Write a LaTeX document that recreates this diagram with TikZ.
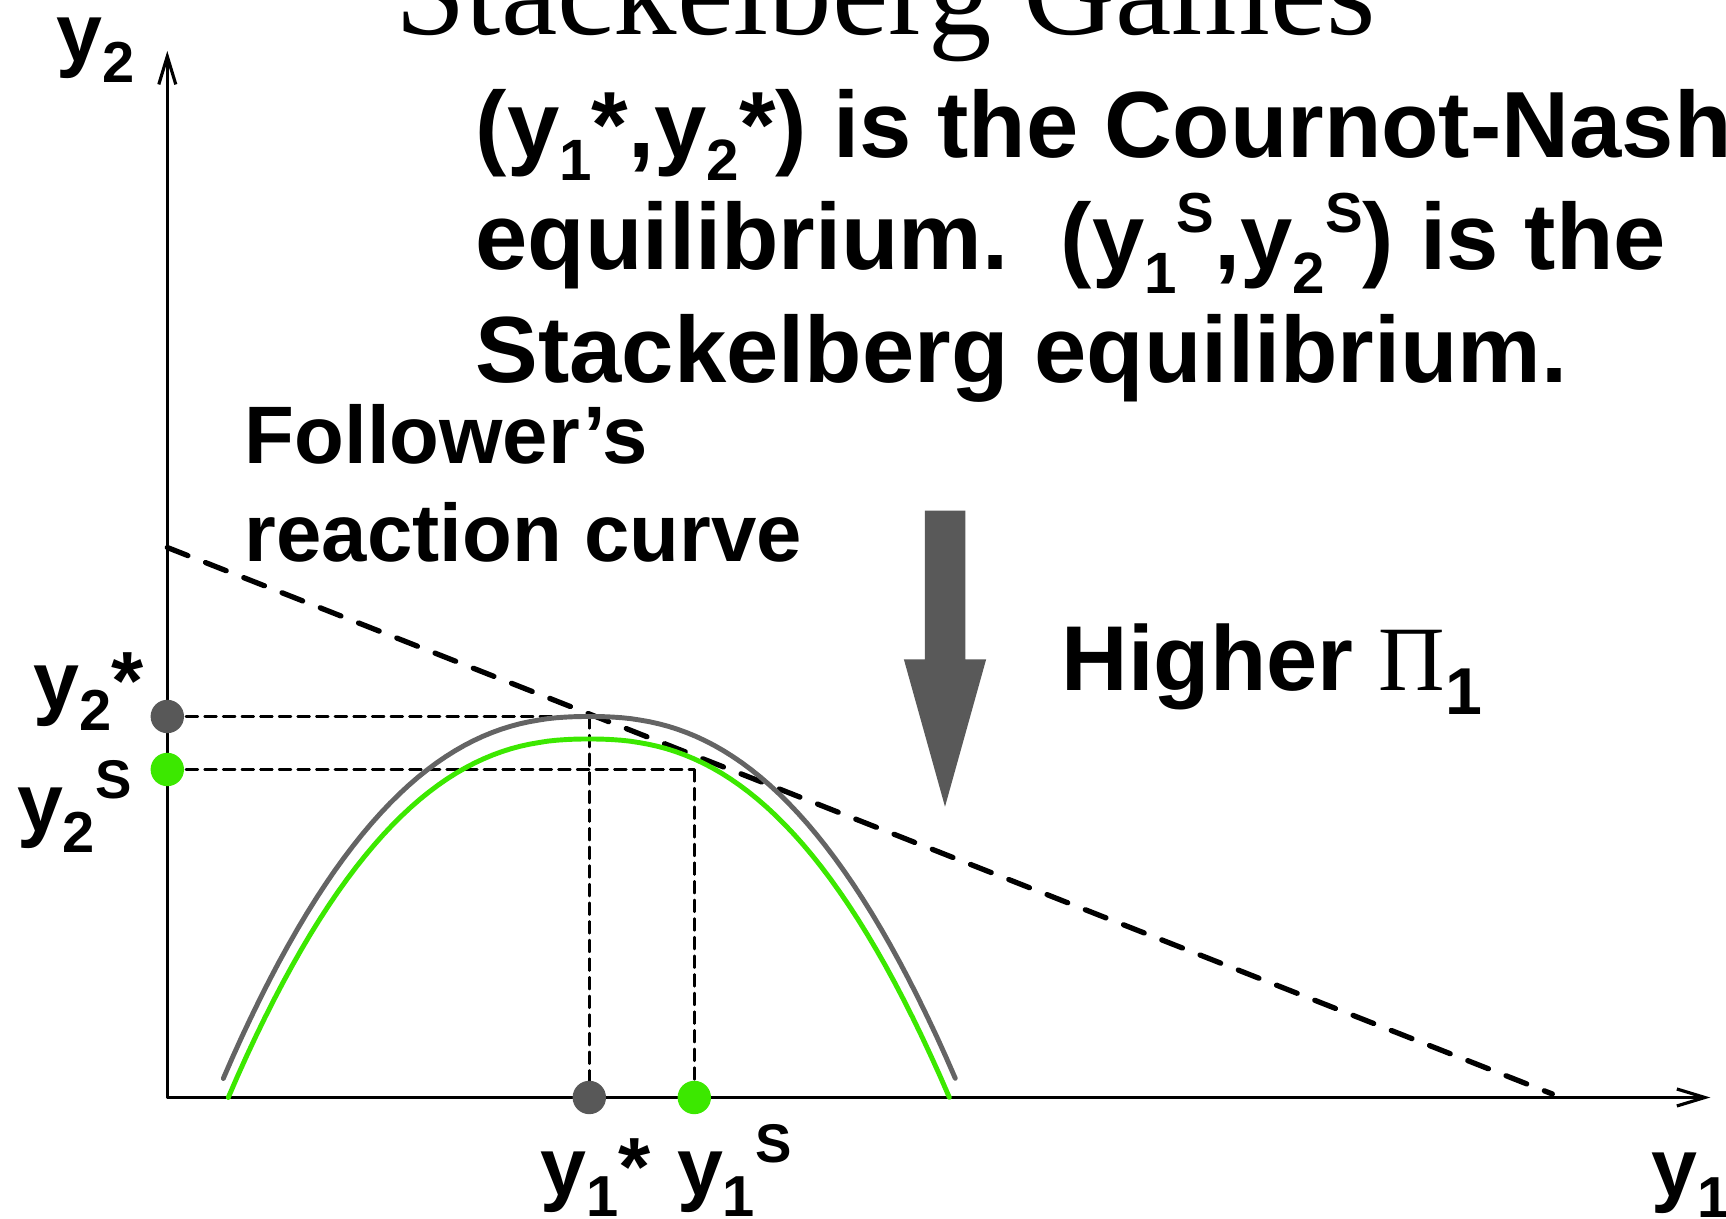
\documentclass[tikz,border=0pt]{standalone}
\usepackage{fontspec}
\setmainfont{Liberation Sans}
\newfontfamily\titlefont{Liberation Serif}
\usepackage{tkz-euclide}
\usetikzlibrary{arrows.meta,calc}
\definecolor{NashClr}{RGB}{88,88,88}
\definecolor{StackClr}{RGB}{60,232,0}
\definecolor{CurveClr}{RGB}{100,100,100}
\definecolor{ArrowClr}{RGB}{89,89,89}
\newcommand{\subs}[2][.62]{\raisebox{-.25em}{\scalebox{#1}{#2}}}
\newcommand{\sups}[2][.6]{\raisebox{.4em}{\scalebox{#1}{#2}}}

\begin{document}
\begin{tikzpicture}[
  axis/.style={line width=.7pt,-{Straight Barb[length=2.8mm,width=1.7mm,line width=.9pt]}},
  guide/.style={line width=.7pt,dash pattern=on 3.4pt off 1.9pt},
  bestline/.style={line width=1.5pt,dash pattern=on 6.3pt off 5.4pt},
  reaction/.style={line width=1.4pt,line cap=round},
  lbl/.style={anchor=base west,inner sep=0pt,font=\bfseries\fontsize{23.5}{26}\selectfont},
  txt/.style={anchor=base west,inner sep=0pt,font=\bfseries\fontsize{26.75}{30}\selectfont}]
\useasboundingbox (-1.673,-1.215) rectangle (15.587,10.975);

\tkzDefPoints{0/0/O,0/10.465/Y,15.43/0/X,0/5.50/P,13.85/0.035/Q}
\tkzDefPoints{4.22/0/A,0/3.81/B,4.22/3.81/N,5.27/0/C,0/3.28/D,5.27/3.28/S}

% downward arrow
\tkzDefPoints{7.5745/5.868/a1,7.9795/5.868/a2,7.9795/4.382/a3,8.1885/4.382/a4,
  7.777/2.908/a5,7.3655/4.382/a6,7.5745/4.382/a7}
\tkzFillPolygon[fill=ArrowClr](a1,a2,a3,a4,a5,a6,a7)

% axes
\tkzDrawSegments[axis](O,Y O,X)

% iso-profit line and guides
\tkzDrawSegment[bestline](P,Q)
\tkzDrawSegments[guide](B,N N,A D,S S,C)

% reaction curves
\draw[reaction,CurveClr] plot[domain=0.56:7.88,samples=80]
  (\x,{3.81-3.62*pow(abs((\x-4.22)/3.66),2.35)});
\draw[reaction,StackClr] plot[domain=0.61:7.82,samples=80]
  (\x,{3.585-3.585*pow(abs((\x-4.215)/3.605),2.35)});

\fill[NashClr] (B) circle (0.167) (A) circle (0.167);
\fill[StackClr] (D) circle (0.167) (C) circle (0.167);

% labels
\node[anchor=base west,inner sep=0pt,font=\titlefont\fontsize{36.1}{40}\selectfont]
  (title) at (2.272,10.63) {Stackelberg Games};
\node[txt] (lineA) at (3.077,9.402) {(y\subs{1}*,y\subs{2}*) is the Cournot-Nash};
\node[txt] (lineB) at (3.077,8.275) {equilibrium.\ \ (y\subs{1}\sups{S},y\subs{2}\sups{S}) is the};
\node[txt] (lineC) at (3.077,7.145) {Stackelberg equilibrium.};
\node[anchor=base west,inner sep=0pt,font=\bfseries\fontsize{23.2}{26}\selectfont]
  (follA) at (0.767,6.342) {Follower’s};
\node[anchor=base west,inner sep=0pt,font=\bfseries\fontsize{23.2}{26}\selectfont]
  (follB) at (0.767,5.358) {reaction curve};
\node[anchor=base west,inner sep=0pt,font=\bfseries\fontsize{26.2}{30}\selectfont]
  (higher) at (8.937,4.065) {Higher {\titlefont\mdseries Π}\subs[.72]{1}};

\node[lbl] (ytwo) at (-1.113,10.36) {y\subs[.7]{2}};
\node[lbl] (ytwostar) at (-1.343,3.88) {y\subs[.7]{2}*};
\node[lbl] (ytwoS) at (-1.51,2.66) {y\subs[.7]{2}\sups[.66]{S}};
\node[lbl] (yonestar) at (3.725,-0.98) {y\subs[.7]{1}*};
\node[lbl] (yoneS) at (5.09,-0.98) {y\subs[.7]{1}\sups[.66]{S}};
\node[lbl] (yone) at (14.835,-0.99) {y\subs[.7]{1}};
\end{tikzpicture}
\end{document}
